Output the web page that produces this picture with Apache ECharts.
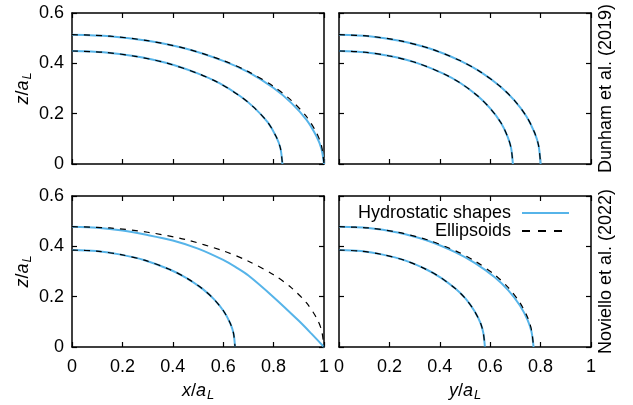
<!DOCTYPE html>
<html>
<head>
<meta charset="utf-8">
<script src="https://cdn.jsdelivr.net/npm/echarts@6/dist/echarts.min.js"></script>
<style>html,body{margin:0;padding:0;background:#fff}#c{width:633px;height:405px}</style>
</head>
<body>
<div id="c"></div>
<script>
// ---- tick labels ----
const xTickLabels = ['0', '0.2', '0.4', '0.6', '0.8', '1'];
const zTickLabels = ['0', '0.2', '0.4', '0.6'];
const rowLabels = ['Dunham et al. (2019)', 'Noviello et al. (2022)'];
const legendNames = ['Hydrostatic shapes', 'Ellipsoids'];

// ---- Top-left panel (x/a_L), Dunham ----
const tlInnerX = [0, 0.125, 0.251, 0.376, 0.501, 0.585, 0.668, 0.726, 0.777, 0.810, 0.827, 0.835];
const tlInnerZ = [0.449, 0.444, 0.428, 0.401, 0.359, 0.321, 0.269, 0.221, 0.165, 0.109, 0.063, 0];
const tlOuterX = [0, 0.15, 0.3, 0.45, 0.6, 0.7, 0.8, 0.87, 0.93, 0.97, 0.99, 1.0];
const tlOuterEllZ = [0.514, 0.508, 0.490, 0.459, 0.411, 0.367, 0.308, 0.253, 0.189, 0.125, 0.073, 0];
const tlOuterHydZ = [0.514, 0.508, 0.490, 0.459, 0.410, 0.365, 0.302, 0.243, 0.176, 0.110, 0.060, 0];

// ---- Top-right panel (y/a_L), Dunham ----
const trInnerX = [0, 0.1035, 0.207, 0.3105, 0.414, 0.483, 0.552, 0.600, 0.642, 0.669, 0.683, 0.69];
const trInnerZ = [0.449, 0.444, 0.428, 0.401, 0.359, 0.321, 0.269, 0.221, 0.165, 0.109, 0.063, 0];
const trOuterX = [0, 0.12, 0.24, 0.36, 0.48, 0.56, 0.64, 0.696, 0.744, 0.776, 0.792, 0.80];
const trOuterZ = [0.514, 0.508, 0.490, 0.459, 0.411, 0.367, 0.308, 0.253, 0.189, 0.125, 0.073, 0];

// ---- Bottom-left panel (x/a_L), Noviello ----
const blInnerX = [0, 0.097, 0.194, 0.291, 0.388, 0.453, 0.518, 0.563, 0.602, 0.628, 0.641, 0.647];
const blInnerZ = [0.385, 0.381, 0.367, 0.344, 0.308, 0.275, 0.231, 0.190, 0.142, 0.094, 0.054, 0];
const blOuterEllX = [0, 0.15, 0.3, 0.45, 0.6, 0.7, 0.8, 0.87, 0.93, 0.97, 0.99, 1.0];
const blOuterEllZ = [0.478, 0.473, 0.456, 0.427, 0.382, 0.341, 0.287, 0.236, 0.176, 0.116, 0.067, 0];
const blOuterHydX = [0, 0.1, 0.2, 0.3, 0.4, 0.5, 0.6, 0.65, 0.7, 0.8, 0.9, 0.95, 1.0];
const blOuterHydZ = [0.478, 0.474, 0.463, 0.445, 0.423, 0.391, 0.346, 0.317, 0.284, 0.198, 0.104, 0.053, 0];

// ---- Bottom-right panel (y/a_L), Noviello ----
const brInnerX = [0, 0.087, 0.174, 0.261, 0.347, 0.405, 0.463, 0.504, 0.538, 0.562, 0.573, 0.579];
const brInnerZ = [0.385, 0.381, 0.367, 0.344, 0.308, 0.275, 0.231, 0.190, 0.142, 0.094, 0.054, 0];
const brOuterX = [0, 0.116, 0.232, 0.347, 0.463, 0.540, 0.618, 0.672, 0.718, 0.749, 0.764, 0.772];
const brOuterEllZ = [0.478, 0.473, 0.456, 0.427, 0.382, 0.341, 0.287, 0.236, 0.176, 0.116, 0.067, 0];
const brOuterHydZ = [0.478, 0.473, 0.455, 0.424, 0.376, 0.333, 0.277, 0.225, 0.165, 0.106, 0.060, 0];

// ---- build ----
const zip = (xs, zs) => xs.map((x, i) => [x, zs[i]]);
const FONT = 'Liberation Sans, Arial, Helvetica, sans-serif';
const BLUE = '#56B4E9';

const grids = [
  {left: 72, top: 13, width: 252, height: 151},
  {left: 339, top: 13, width: 252, height: 151},
  {left: 72, top: 196, width: 252, height: 151},
  {left: 339, top: 196, width: 252, height: 151}
];

const nameRich = {
  i: {fontStyle: 'italic', fontSize: 18, fontFamily: FONT, color: '#000'},
  n: {fontSize: 18, fontFamily: FONT, color: '#000'},
  s: {fontStyle: 'italic', fontSize: 13, fontFamily: FONT, color: '#000', padding: [9, 0, 0, 1]}
};

const axLine = {show: true, onZero: false, lineStyle: {color: '#000', width: 1.5}};
const axTick = {show: true, inside: true, length: 5, lineStyle: {color: '#000', width: 1.2}};

const xAxes = [], yAxes = [];
grids.forEach((g, gi) => {
  const bottomRow = gi >= 2, leftCol = gi % 2 === 0;
  xAxes.push({
    type: 'value', gridIndex: gi, position: 'bottom', min: 0, max: 1, interval: 0.2,
    axisLine: axLine, axisTick: axTick, splitLine: {show: false},
    axisLabel: {show: bottomRow, margin: 11, fontSize: 18, fontFamily: FONT, color: '#000',
      formatter: v => xTickLabels[Math.round(v / 0.2)]},
    name: bottomRow ? (leftCol ? '{i|x}{n|/}{i|a}{s|L}' : '{i|y}{n|/}{i|a}{s|L}') : '',
    nameLocation: 'middle', nameGap: 33, nameTextStyle: {rich: nameRich}
  });
  xAxes.push({
    type: 'value', gridIndex: gi, position: 'top', min: 0, max: 1, interval: 0.2,
    axisLine: axLine, axisTick: axTick, splitLine: {show: false}, axisLabel: {show: false}
  });
  yAxes.push({
    type: 'value', gridIndex: gi, position: 'left', min: 0, max: 0.6, interval: 0.2,
    axisLine: axLine, axisTick: axTick, splitLine: {show: false},
    axisLabel: {show: leftCol, margin: 8, fontSize: 18, fontFamily: FONT, color: '#000',
      formatter: v => zTickLabels[Math.round(v / 0.2)]},
    name: leftCol ? '{i|z}{n|/}{i|a}{s|L}' : '',
    nameLocation: 'middle', nameRotate: 90, nameGap: 38, nameTextStyle: {rich: nameRich}
  });
  yAxes.push({
    type: 'value', gridIndex: gi, position: 'right', min: 0, max: 0.6, interval: 0.2,
    axisLine: axLine, axisTick: axTick, splitLine: {show: false}, axisLabel: {show: false},
    name: leftCol ? '' : rowLabels[gi >= 2 ? 1 : 0],
    nameLocation: 'middle', nameRotate: 90, nameGap: 6,
    nameTextStyle: {fontSize: 18, fontFamily: FONT, color: '#000'}
  });
});

const hyd = (gi, data) => ({
  type: 'line', name: legendNames[0], xAxisIndex: 2 * gi, yAxisIndex: 2 * gi,
  data, smooth: 0.3, symbol: 'none', lineStyle: {color: BLUE, width: 2}, itemStyle: {color: BLUE}, z: 2
});
const ell = (gi, data) => ({
  type: 'line', name: legendNames[1], xAxisIndex: 2 * gi, yAxisIndex: 2 * gi,
  data, smooth: 0.3, symbol: 'none', lineStyle: {color: '#000', width: 1.2, type: [6, 6]}, itemStyle: {color: '#000'}, z: 3
});

const series = [
  hyd(0, zip(tlInnerX, tlInnerZ)), hyd(0, zip(tlOuterX, tlOuterHydZ)),
  hyd(1, zip(trInnerX, trInnerZ)), hyd(1, zip(trOuterX, trOuterZ)),
  hyd(2, zip(blInnerX, blInnerZ)), hyd(2, zip(blOuterHydX, blOuterHydZ)),
  hyd(3, zip(brInnerX, brInnerZ)), hyd(3, zip(brOuterX, brOuterHydZ)),
  ell(0, zip(tlInnerX, tlInnerZ)), ell(0, zip(tlOuterX, tlOuterEllZ)),
  ell(1, zip(trInnerX, trInnerZ)), ell(1, zip(trOuterX, trOuterZ)),
  ell(2, zip(blInnerX, blInnerZ)), ell(2, zip(blOuterEllX, blOuterEllZ)),
  ell(3, zip(brInnerX, brInnerZ)), ell(3, zip(brOuterX, brOuterEllZ))
];

const legendBase = {
  orient: 'horizontal', align: 'right', right: 63, padding: 0,
  itemWidth: 47, itemHeight: 18, selectedMode: false,
  itemStyle: {color: 'rgba(0,0,0,0)', borderWidth: 0, opacity: 0},
  textStyle: {fontSize: 18, fontFamily: FONT, color: '#000', padding: [0, 6, 0, 0]}
};

const chart = echarts.init(document.getElementById('c'), null, {renderer: 'canvas'});
chart.setOption({
  animation: false,
  backgroundColor: '#fff',
  grid: grids,
  xAxis: xAxes,
  yAxis: yAxes,
  legend: [
    Object.assign({}, legendBase, {top: 204, data: [legendNames[0]]}),
    Object.assign({}, legendBase, {top: 222, data: [legendNames[1]], lineStyle: {type: [8, 8]}})
  ],
  series
});
</script>
</body>
</html>
